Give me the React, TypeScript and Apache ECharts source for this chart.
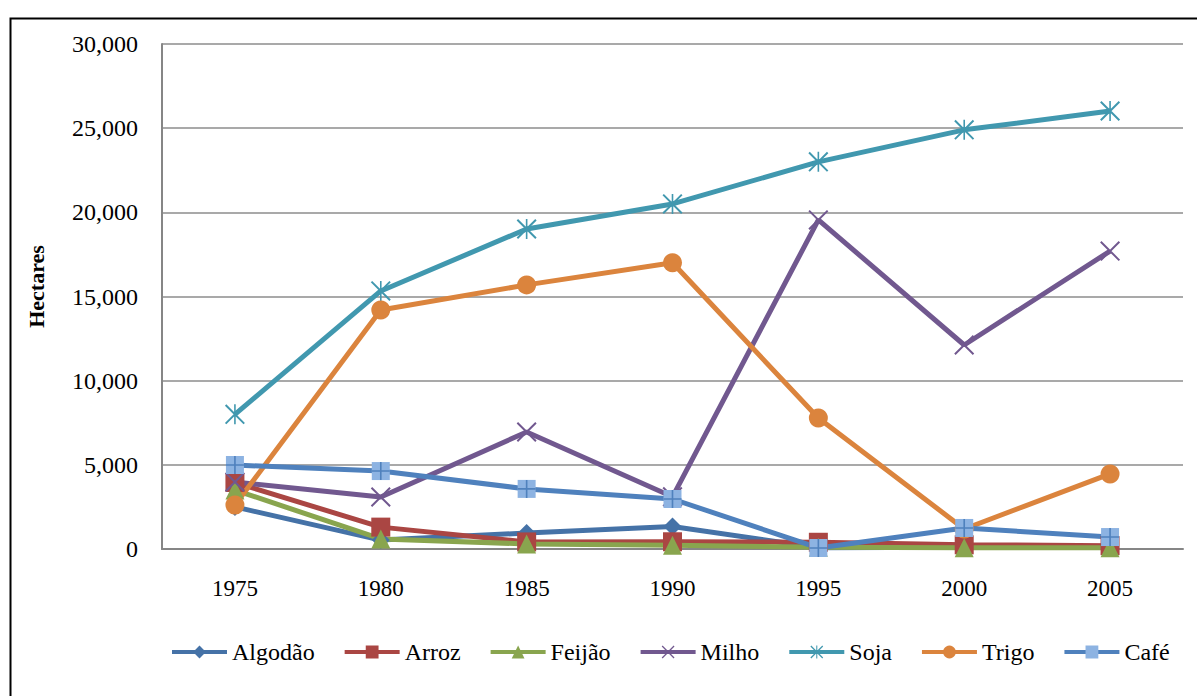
import React, { useEffect, useRef } from "react";
import * as echarts from "echarts";

const years = ["1975", "1980", "1985", "1990", "1995", "2000", "2005"];
const algodao = [2500, 530, 950, 1340, 80, 100, 100];
const arroz = [3950, 1300, 420, 430, 400, 250, 200];
const feijao = [3500, 600, 300, 230, 100, 80, 80];
const milho = [3980, 3090, 6950, 3100, 19550, 12120, 17700];
const soja = [8000, 15330, 19010, 20500, 23000, 24900, 26020];
const trigo = [2610, 14200, 15690, 17000, 7780, 1190, 4460];
const cafe = [4990, 4630, 3570, 2970, 60, 1250, 710];

const FONT = "'Times New Roman', 'Liberation Serif', serif";

const X_PATH =
  "path://M1.4,0 L20,18.6 L18.6,20 L0,1.4 Z M18.6,0 L20,1.4 L1.4,20 L0,18.6 Z";
const STAR_PATH =
  "path://M1.4,0 L20,18.6 L18.6,20 L0,1.4 Z M18.6,0 L20,1.4 L1.4,20 L0,18.6 Z M9.2,0 L10.8,0 L10.8,20 L9.2,20 Z";
const PLUS_PATH =
  "path://M9.1,0 L10.9,0 L10.9,20 L9.1,20 Z M0,9.1 L20,9.1 L20,10.9 L0,10.9 Z";

function lineSeries(name: string, data: number[], color: string, symbol: string, size: number, extra: any = {}) {
  return {
    name,
    type: "line",
    data,
    symbol,
    symbolSize: size,
    showAllSymbol: true,
    lineStyle: { color, width: 5 },
    itemStyle: { color, borderWidth: 0 },
    emphasis: { disabled: true },
    ...extra,
  };
}

export default function App() {
  const ref = useRef<HTMLDivElement>(null);
  useEffect(() => {
    if (!ref.current) return;
    const chart = echarts.init(ref.current, undefined, { renderer: "svg" });
    chart.setOption({
      animation: false,
      backgroundColor: "#ffffff",
      graphic: [
        {
          type: "rect",
          left: 8,
          top: 16,
          shape: { width: 1200, height: 700 },
          style: { fill: "none", stroke: "#000000", lineWidth: 2 },
          silent: true,
          z: -10,
        },
      ],
      grid: { left: 162, right: 14, top: 44, bottom: 147, containLabel: false },
      legend: {
        data: ["Algodão", "Arroz", "Feijão", "Milho", "Soja", "Trigo", "Café"],
        left: 165,
        top: 635,
        itemWidth: 55,
        itemHeight: 16,
        itemGap: 28,
        lineStyle: { width: 4 },
        textStyle: { fontFamily: FONT, fontSize: 24, color: "#000" },
      },
      xAxis: {
        type: "category",
        data: years,
        boundaryGap: true,
        axisLine: { show: true, lineStyle: { color: "#868686", width: 2 } },
        axisTick: { show: false },
        axisLabel: { fontFamily: FONT, fontSize: 23, color: "#000", margin: 28 },
      },
      yAxis: {
        type: "value",
        min: 0,
        max: 30000,
        interval: 5000,
        name: "Hectares",
        nameLocation: "middle",
        nameGap: 115,
        nameTextStyle: {
          fontFamily: FONT,
          fontSize: 22,
          fontWeight: "bold",
          color: "#000",
          padding: [0, 0, 0, 20],
        },
        axisLine: { show: true, lineStyle: { color: "#868686", width: 2 } },
        axisTick: { show: false },
        splitLine: { show: true, lineStyle: { color: "#8c8c8c", width: 1.5 } },
        axisLabel: {
          fontFamily: FONT,
          fontSize: 24,
          color: "#000",
          margin: 24,
          formatter: (v: number) => v.toLocaleString("en-US"),
        },
      },
      series: [
        lineSeries("Algodão", algodao, "#4572A7", "diamond", 18),
        lineSeries("Arroz", arroz, "#AA4643", "rect", 19),
        lineSeries("Feijão", feijao, "#89A54E", "triangle", 19),
        lineSeries("Milho", milho, "#71588F", X_PATH, 20),
        lineSeries("Soja", soja, "#4198AF", STAR_PATH, 20),
        lineSeries("Trigo", trigo, "#DB843D", "circle", 19),
        lineSeries("Café", cafe, "#4F81BD", "rect", 18, {
          itemStyle: { color: "#8DB3E2", borderWidth: 0 },
        }),
        {
          name: "Café",
          type: "line",
          data: cafe,
          symbol: PLUS_PATH,
          symbolSize: 18,
          showAllSymbol: true,
          lineStyle: { width: 0, opacity: 0 },
          itemStyle: { color: "#4F81BD" },
          emphasis: { disabled: true },
          z: 3,
        },
      ],
    });
    return () => chart.dispose();
  }, []);
  return (
    <div
      ref={ref}
      style={{ position: "absolute", left: 0, top: 0, width: 1197, height: 696 }}
    />
  );
}
